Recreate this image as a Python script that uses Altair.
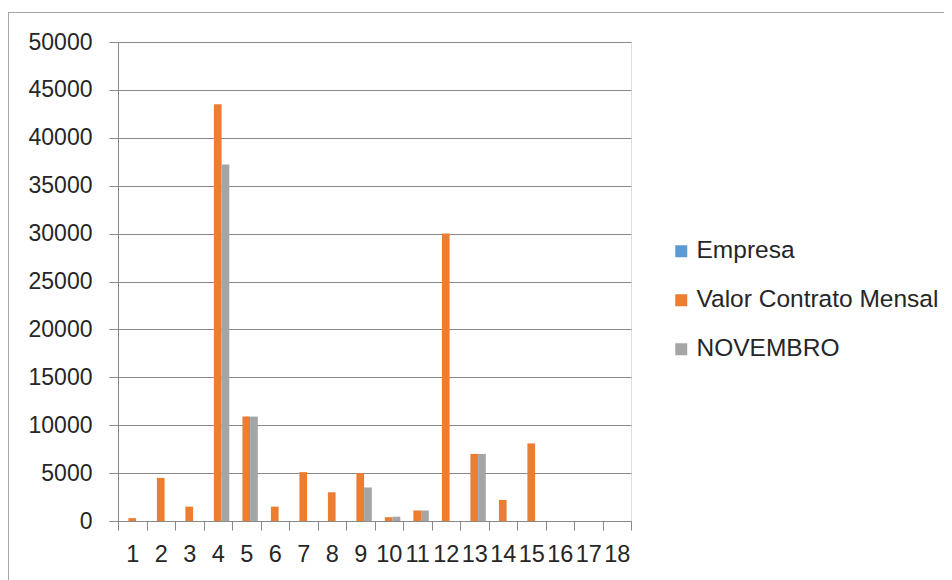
import altair as alt
import pandas as pd

categories = list(range(1, 19))
series_names = ["Empresa", "Valor Contrato Mensal", "NOVEMBRO"]
empresa = [0] * 18
valor_contrato = [300, 4500, 1500, 43500, 10900, 1500, 5100, 3000, 5000, 400,
                  1100, 30000, 7000, 2200, 8100, 0, 0, 0]
novembro = [0, 0, 0, 37200, 10900, 0, 0, 0, 3500, 450,
            1100, 0, 7000, 0, 0, 0, 0, 0]
colors = ["#5B9BD5", "#ED7D31", "#A5A5A5"]
y_ticks = [0, 5000, 10000, 15000, 20000, 25000, 30000, 35000, 40000, 45000, 50000]

rows = []
for name, vals in zip(series_names, [empresa, valor_contrato, novembro]):
    for c, v in zip(categories, vals):
        rows.append({"cat": c, "serie": name, "valor": v})
df = pd.DataFrame(rows)

FONT = "Liberation Sans"
TXT = "#262626"
GRID = "#898989"

bars = alt.Chart(df).mark_bar().encode(
    x=alt.X("cat:O", sort=categories,
            scale=alt.Scale(paddingInner=0, paddingOuter=0),
            axis=alt.Axis(title=None, labelAngle=0, tickBand="extent", tickSize=9,
                          tickColor=GRID, domainColor=GRID, labelFont=FONT,
                          labelFontSize=23.5, labelColor=TXT, labelPadding=12,
                          grid=False)),
    xOffset=alt.XOffset("serie:N", sort=series_names,
                        scale=alt.Scale(domain=series_names, paddingInner=0, paddingOuter=0.35)),
    y=alt.Y("valor:Q", scale=alt.Scale(domain=[0, 50000], nice=False),
            axis=alt.Axis(title=None, values=y_ticks, format="d", tickSize=9,
                          tickColor=GRID, domainColor=GRID, gridColor=GRID, grid=True,
                          labelFont=FONT, labelFontSize=23, labelColor=TXT,
                          labelPadding=17)),
    color=alt.Color("serie:N", sort=series_names,
                    scale=alt.Scale(domain=series_names, range=colors),
                    legend=alt.Legend(title=None, orient="none", legendX=551, legendY=197,
                                      symbolType="square", symbolSize=144,
                                      symbolStrokeWidth=0, labelFont=FONT,
                                      labelFontSize=24.5, labelColor=TXT, labelLimit=0,
                                      rowPadding=24, labelOffset=3)),
)

frame_v = alt.Chart(df).mark_rule(color="#A6A6A6", strokeWidth=1).encode(
    x=alt.value(-109.5), y=alt.value(-29.5), y2=alt.value(600)
)
frame_h = alt.Chart(df).mark_rule(color="#A6A6A6", strokeWidth=1).encode(
    x=alt.value(-109.5), x2=alt.value(860), y=alt.value(-29.5)
)

chart = alt.layer(frame_v, frame_h, bars).properties(
    width=513, height=479,
    padding={"left": 110, "top": 34, "right": 313, "bottom": 70},
    autosize=alt.AutoSizeParams(type="none"),
).configure_view(strokeWidth=0).configure(background="white")

chart.save("out.html", embed_options={"renderer": "svg", "actions": False})
